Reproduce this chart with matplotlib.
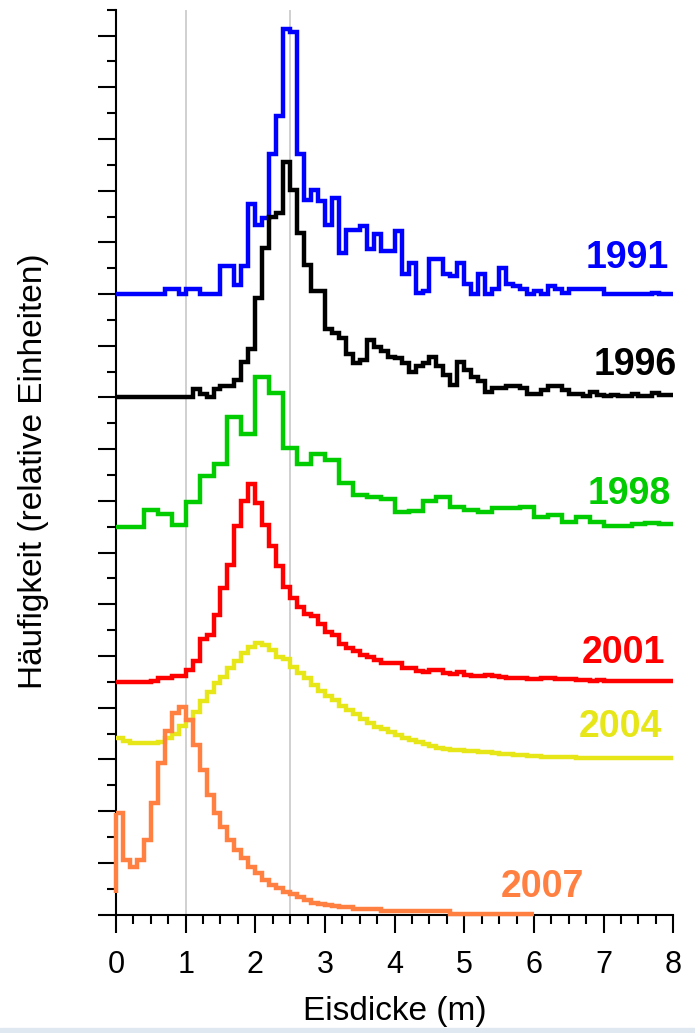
import numpy as np
import matplotlib
matplotlib.use("Agg")
import matplotlib.pyplot as plt
from matplotlib.ticker import MultipleLocator, NullFormatter
from matplotlib.patches import Rectangle

plt.rcParams['font.family'] = ['Liberation Sans', 'DejaVu Sans']

# Eisdicken-Verteilungen (relative units above each baseline)
years = ['1991', '1996', '1998', '2001', '2004', '2007']
offsets = [12.0, 10.0, 7.5, 4.5, 3.0, 0.0]
colors = ['#0000ff', '#000000', '#00cc00', '#ff0000', '#e6e619', '#ff8040']

# 0.1 m bins 0..8
h1991 = [0, 0, 0, 0, 0, 0, 0, 0.1, 0.1, 0,
         0.1, 0.1, 0, 0, 0, 0.55, 0.55, 0.18, 0.55, 1.75,
         1.34, 1.48, 2.71, 3.45, 5.13, 5.06, 2.71, 1.82, 2.01, 1.80,
         1.34, 1.86, 0.80, 1.24, 1.24, 1.32, 0.87, 1.17, 0.84, 0.84,
         1.22, 0.39, 0.61, 0.03, 0.06, 0.68, 0.68, 0.39, 0.35, 0.61,
         0.19, 0, 0.39, 0, 0.1, 0.51, 0.19, 0.16, 0.1, 0,
         0.06, 0, 0.16, 0.1, 0.03, 0.1, 0.1, 0.1, 0.1, 0.1,
         0, 0, 0, 0, 0, 0, 0, 0.03, 0, 0]

h1996 = [0, 0, 0, 0, 0, 0, 0, 0, 0, 0,
         0, 0.16, 0.06, 0.0, 0.16, 0.22, 0.22, 0.34, 0.69, 0.93,
         1.92, 2.89, 3.49, 3.57, 4.56, 4.01, 3.18, 2.56, 2.05, 2.05,
         1.32, 1.24, 1.15, 0.85, 0.66, 0.73, 1.11, 0.98, 0.89, 0.79,
         0.76, 0.66, 0.50, 0.60, 0.66, 0.79, 0.60, 0.44, 0.24, 0.69,
         0.53, 0.40, 0.31, 0.11, 0.18, 0.18, 0.23, 0.23, 0.18, 0.06,
         0.06, 0.15, 0.23, 0.23, 0.15, 0.07, 0.07, 0.02, 0.11, 0.05,
         0.02, 0.05, 0.02, 0.02, 0.07, 0.02, 0.02, 0.08, 0.05, 0.05]

# 1998 has 0.2 m bins
h1998 = [0, 0, 0.32, 0.25, 0.03, 0.48, 0.98, 1.21, 2.12, 1.79,
         2.90, 2.59, 1.52, 1.21, 1.41, 1.29, 0.84, 0.61, 0.58, 0.53,
         0.29, 0.30, 0.50, 0.58, 0.39, 0.32, 0.29, 0.36, 0.36, 0.39,
         0.19, 0.23, 0.10, 0.18, 0.10, 0.01, 0.01, 0.05, 0.08, 0.05]

h2001 = [0, 0, 0, 0, 0, 0.02, 0.07, 0.07, 0.12, 0.12,
         0.23, 0.41, 0.83, 0.91, 1.30, 1.82, 2.26, 3.01, 3.49, 3.83,
         3.45, 3.04, 2.63, 2.24, 1.84, 1.63, 1.45, 1.32, 1.27, 1.12,
         0.96, 0.91, 0.73, 0.65, 0.59, 0.52, 0.48, 0.43, 0.37, 0.36,
         0.37, 0.27, 0.27, 0.21, 0.19, 0.23, 0.23, 0.17, 0.15, 0.19,
         0.14, 0.12, 0.12, 0.14, 0.12, 0.10, 0.08, 0.08, 0.08, 0.06,
         0.06, 0.08, 0.08, 0.06, 0.06, 0.06, 0.04, 0.04, 0.02, 0.04,
         0.02, 0.02, 0.02, 0.02, 0.02, 0.02, 0.02, 0.02, 0.02, 0.02]

h2004 = [0.41, 0.36, 0.32, 0.31, 0.31, 0.31, 0.34, 0.41, 0.50, 0.65,
         0.76, 0.92, 1.12, 1.31, 1.47, 1.60, 1.76, 1.91, 2.05, 2.18,
         2.25, 2.21, 2.12, 1.99, 1.94, 1.79, 1.68, 1.57, 1.44, 1.33,
         1.23, 1.14, 1.03, 0.96, 0.88, 0.78, 0.70, 0.62, 0.59, 0.53,
         0.47, 0.42, 0.38, 0.34, 0.30, 0.26, 0.23, 0.21, 0.19, 0.18,
         0.17, 0.16, 0.15, 0.14, 0.13, 0.11, 0.10, 0.085, 0.08, 0.07,
         0.066, 0.056, 0.052, 0.046, 0.043, 0.037, 0.033, 0.029, 0.027, 0.025,
         0.021, 0.021, 0.02, 0.02, 0.02, 0.02, 0.02, 0.02, 0.02, 0.02]

# 2007 only goes to 6 m
h2007 = [1.96, 1.05, 0.91, 1.05, 1.45, 2.15, 2.94, 3.54, 3.90, 4.01,
         3.76, 3.28, 2.79, 2.31, 1.96, 1.70, 1.44, 1.25, 1.09, 0.92,
         0.80, 0.67, 0.57, 0.51, 0.44, 0.40, 0.34, 0.29, 0.23, 0.21,
         0.18, 0.16, 0.15, 0.14, 0.10, 0.10, 0.10, 0.10, 0.07, 0.07,
         0.07, 0.07, 0.07, 0.07, 0.07, 0.07, 0.07, 0.07, 0.01, 0.01,
         0.01, 0.01, 0.01, 0.01, 0.01, 0.01, 0.01, 0.01, 0.01, 0.01]
start_2007 = 0.41   # value the 2007 line comes up from at x=0

series = [h1991, h1996, h1998, h2001, h2004, h2007]
bin_width = [0.1, 0.1, 0.2, 0.1, 0.1, 0.1]

# year label positions (data coords, left/baseline)
label_x = [6.74, 6.85, 6.77, 6.69, 6.64, 5.53]
label_y = [12.50, 10.43, 7.94, 4.87, 3.43, 0.34]

fig = plt.figure(figsize=(6.95, 10.33), dpi=100)
ax = fig.add_axes([0.1669, 0.1147, 0.8019, 0.8759])

# light grey reference lines at 1 m and 2.5 m
for xv in [1.0, 2.5]:
    ax.axvline(xv, color='#c8c8c8', lw=1.2, zorder=0)

for yr, vals, off, col, bw in zip(years, series, offsets, colors, bin_width):
    vals = np.array(vals)
    edges = np.arange(len(vals) + 1) * bw
    ax.stairs(vals + off, edges, baseline=None, color=col, lw=3.2,
              clip_on=False, zorder=3)
    if yr == '2007':
        ax.vlines(edges[0], start_2007 + off, vals[0] + off, color=col,
                  lw=3.2, clip_on=False, zorder=3)

for yr, col, lx, ly in zip(years, colors, label_x, label_y):
    ax.text(lx, ly, yr, color=col, fontsize=27, fontweight='bold',
            ha='left', va='baseline')

ax.set_xlim(0, 8)
ax.set_ylim(0, 17.5)

ax.xaxis.set_major_locator(MultipleLocator(1))
ax.xaxis.set_minor_locator(MultipleLocator(0.25))
ax.yaxis.set_major_locator(MultipleLocator(1))
ax.yaxis.set_minor_locator(MultipleLocator(0.5))
ax.yaxis.set_major_formatter(NullFormatter())

ax.tick_params(which='major', direction='out', length=13.3, width=1.5,
               labelsize=22, pad=12)
ax.tick_params(which='minor', direction='out', length=6.7, width=1.5)

for s in ['top', 'right']:
    ax.spines[s].set_visible(False)
for s in ['left', 'bottom']:
    ax.spines[s].set_linewidth(1.5)

ax.set_xlabel('Eisdicke (m)', fontsize=24, labelpad=12)
ax.set_ylabel('Häufigkeit (relative Einheiten)', fontsize=24)
ax.yaxis.set_label_coords(-0.121, 0.49)

# pale strip along the bottom edge
fig.patches.append(Rectangle((0, 0), 1, 5 / 1033, transform=fig.transFigure,
                             color='#dfe7f1', zorder=0))

fig.savefig('out.png', dpi=100)
